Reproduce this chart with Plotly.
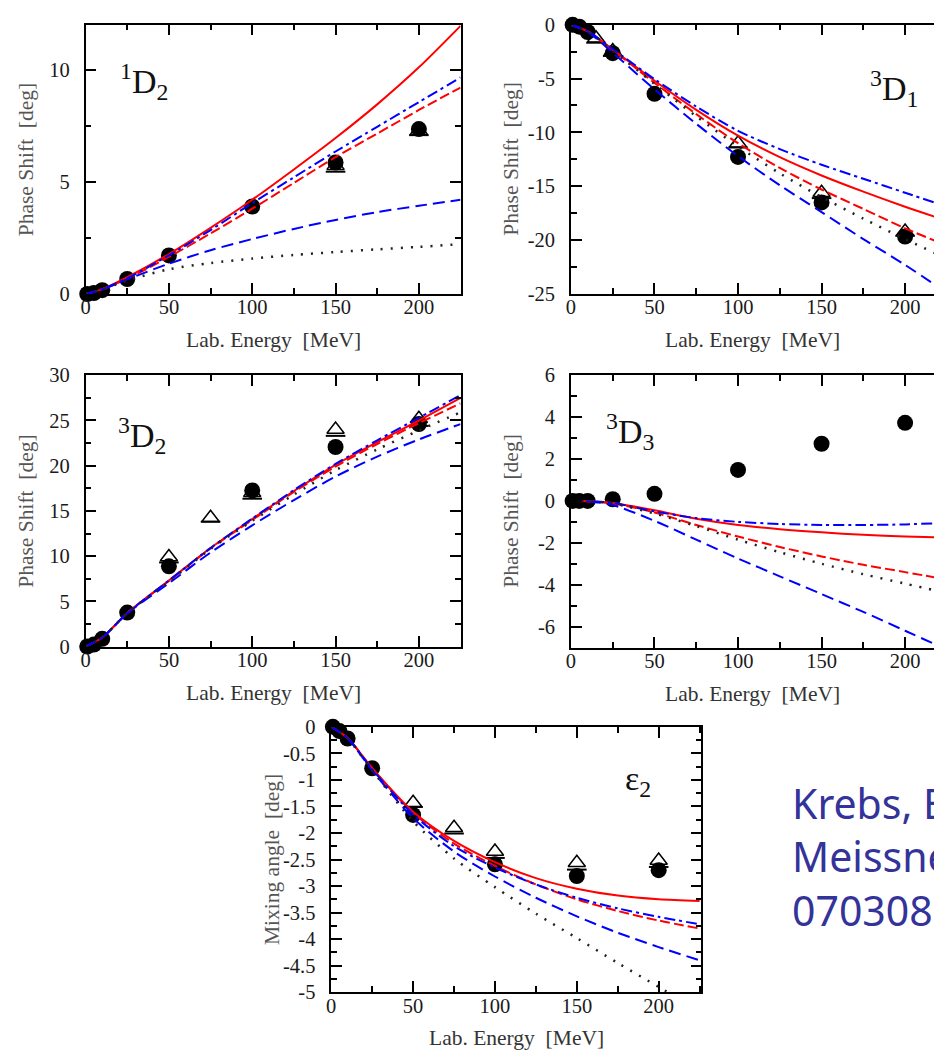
import plotly.graph_objects as go

W, H = 934, 1060

# ---------------- data ----------------
E_CURVE = [0, 10, 25, 50, 75, 100, 125, 150, 175, 200, 225]
E_PWA = [1, 5, 10, 25, 50, 100, 150, 200]

# 1D2 phase shifts
D12_RED_SOLID = [0, 0.22, 0.75, 1.78, 2.95, 4.2, 5.55, 6.95, 8.45, 10.1, 11.95]
D12_RED_DASH = [0, 0.21, 0.68, 1.65, 2.7, 3.8, 4.95, 6.1, 7.15, 8.2, 9.2]
D12_BLUE_DASHDOT = [0, 0.21, 0.7, 1.72, 2.85, 4.05, 5.2, 6.35, 7.45, 8.55, 9.65]
D12_BLUE_DASH = [0, 0.2, 0.65, 1.35, 1.95, 2.45, 2.9, 3.3, 3.65, 3.93, 4.2]
D12_BLACK_DOT = [0, 0.2, 0.6, 1.1, 1.38, 1.58, 1.74, 1.87, 1.99, 2.1, 2.22]
D12_PWA = [0.0, 0.04, 0.17, 0.67, 1.72, 3.9, 5.86, 7.35]
D12_TRI_E = [150, 200]
D12_TRI = [5.72, 7.28]
D12_BAR = [5.45, 7.08]

# 3D1 phase shifts
D31_RED_SOLID = [0, -0.62, -2.3, -5.2, -7.9, -10.3, -12.3, -14.0, -15.5, -16.9, -18.2]
D31_RED_DASH = [0, -0.62, -2.35, -5.4, -8.3, -11.0, -13.3, -15.3, -17.1, -18.9, -20.5]
D31_BLUE_DASHDOT = [0, -0.6, -2.25, -5.05, -7.6, -9.85, -11.55, -13.0, -14.3, -15.6, -16.9]
D31_BLUE_DASH = [0, -0.66, -2.6, -6.0, -9.2, -12.2, -14.9, -17.4, -19.9, -22.3, -24.9]
D31_BLACK_DOT = [0, -0.63, -2.4, -5.5, -8.5, -11.3, -13.8, -16.0, -18.0, -19.9, -21.7]
D31_PWA = [-0.01, -0.18, -0.68, -2.64, -6.42, -12.27, -16.5, -19.67]
D31_TRI_E = [15, 25, 100, 150, 200]
D31_TRI = [-1.25, -2.45, -11.0, -15.6, -19.2]
D31_BAR = [-1.67, -2.9, -11.4, -16.1, -19.6]

# 3D2 phase shifts
D32_RED_SOLID = [0, 1.0, 3.7, 7.3, 10.9, 14.1, 17.2, 20.1, 22.6, 25.0, 27.5]
D32_RED_DASH = [0, 1.0, 3.7, 7.25, 10.85, 14.0, 17.1, 19.9, 22.4, 24.7, 26.9]
D32_BLUE_DASHDOT = [0, 1.0, 3.7, 7.3, 10.9, 14.15, 17.3, 20.2, 22.8, 25.3, 27.8]
D32_BLUE_DASH = [0, 1.0, 3.65, 7.0, 10.4, 13.4, 16.2, 18.8, 21.0, 22.9, 24.6]
D32_BLACK_DOT = [0, 1.0, 3.7, 7.2, 10.8, 13.9, 16.8, 19.5, 21.8, 23.9, 25.9]
D32_PWA = [0.0, 0.22, 0.85, 3.75, 8.87, 17.27, 22.07, 24.6]
D32_TRI_E = [50, 75, 100, 150, 200]
D32_TRI = [9.9, 14.25, 17.0, 24.0, 25.2]
D32_BAR = [9.3, 13.8, 16.35, 23.3, 24.4]

# 3D3 phase shifts
D33_RED_SOLID = [0, -0.01, -0.1, -0.45, -0.85, -1.15, -1.35, -1.5, -1.62, -1.7, -1.75]
D33_RED_DASH = [0, -0.01, -0.12, -0.55, -1.15, -1.7, -2.2, -2.65, -3.05, -3.4, -3.75]
D33_BLUE_DASHDOT = [0, -0.01, -0.1, -0.5, -0.82, -1.0, -1.1, -1.15, -1.15, -1.12, -1.05]
D33_BLUE_DASH = [0, -0.02, -0.2, -0.95, -1.85, -2.75, -3.6, -4.45, -5.3, -6.2, -7.1]
D33_BLACK_DOT = [0, -0.01, -0.12, -0.6, -1.2, -1.85, -2.45, -3.0, -3.5, -3.95, -4.4]
D33_PWA = [0.0, 0.0, 0.0, 0.08, 0.34, 1.48, 2.73, 3.73]

# epsilon_2 mixing angle
E2_RED_SOLID = [0, -0.21, -0.78, -1.6, -2.15, -2.55, -2.85, -3.05, -3.18, -3.25, -3.28]
E2_RED_DASH = [0, -0.21, -0.78, -1.62, -2.2, -2.62, -2.97, -3.25, -3.47, -3.65, -3.8]
E2_BLUE_DASHDOT = [0, -0.21, -0.8, -1.65, -2.25, -2.65, -2.97, -3.22, -3.42, -3.58, -3.72]
E2_BLUE_DASH = [0, -0.22, -0.82, -1.72, -2.35, -2.82, -3.22, -3.57, -3.88, -4.15, -4.4]
E2_BLACK_DOT = [0, -0.22, -0.82, -1.78, -2.48, -3.02, -3.52, -3.98, -4.45, -4.9, -5.35]
E2_PWA = [0.0, -0.08, -0.22, -0.78, -1.66, -2.59, -2.81, -2.70]
E2_TRI_E = [50, 75, 100, 150, 200]
E2_TRI = [-1.43, -1.90, -2.35, -2.56, -2.52]
E2_BAR = [-1.51, -2.01, -2.47, -2.69, -2.64]

# tick labels
X_TICKVALS = [0, 50, 100, 150, 200]
X_TICKTEXT = ["0", "50", "100", "150", "200"]
Y1_TICKVALS = [0, 5, 10]
Y1_TICKTEXT = ["0", "5", "10"]
Y2_TICKVALS = [0, -5, -10, -15, -20, -25]
Y2_TICKTEXT = ["0", "-5", "-10", "-15", "-20", "-25"]
Y3_TICKVALS = [0, 5, 10, 15, 20, 25, 30]
Y3_TICKTEXT = ["0", "5", "10", "15", "20", "25", "30"]
Y4_TICKVALS = [6, 4, 2, 0, -2, -4, -6]
Y4_TICKTEXT = ["6", "4", "2", "0", "-2", "-4", "-6"]
Y5_TICKVALS = [0, -0.5, -1, -1.5, -2, -2.5, -3, -3.5, -4, -4.5, -5]
Y5_TICKTEXT = ["0", "-0.5", "-1", "-1.5", "-2", "-2.5", "-3", "-3.5", "-4", "-4.5", "-5"]

# ---------------- layout helpers ----------------
def fx(p):
    return p / W


def fy(p):
    return 1 - p / H


SERIF = "Liberation Serif, Times New Roman, serif"
TICK_SIZE = 20.5
TITLE_SIZE = 21.5
CURVE_STYLES = [
    ("red_solid", "#ff0000", "solid", 2),
    ("red_dash", "#ff0000", "10px,4px", 2),
    ("blue_dashdot", "#0000ff", "11px,4px,3px,4px", 2),
    ("blue_dash", "#0000ff", "12px,6px", 2),
    ("black_dot", "#222222", "2px,8px", 2.5),
]

panels = [
    dict(box=(81, 458, 14, 289), xr=[0, 225], yr=[0, 12], yt=(Y1_TICKVALS, Y1_TICKTEXT), ymin=2.5,
         curves=[D12_RED_SOLID, D12_RED_DASH, D12_BLUE_DASHDOT, D12_BLUE_DASH, D12_BLACK_DOT],
         pwa=D12_PWA, tri=(D12_TRI_E, D12_TRI, D12_BAR), cut=False,
         label="<sup>1</sup>D<sub>2</sub>", lab_xy=(114, 72), ytitle="Phase Shift  [deg]"),
    dict(box=(569, 934, 14, 289), xr=[0, 217.3], yr=[-25, 0], yt=(Y2_TICKVALS, Y2_TICKTEXT), ymin=2.5,
         curves=[D31_RED_SOLID, D31_RED_DASH, D31_BLUE_DASHDOT, D31_BLUE_DASH, D31_BLACK_DOT],
         pwa=D31_PWA, tri=(D31_TRI_E, D31_TRI, D31_BAR), cut=True,
         label="<sup>3</sup>D<sub>1</sub>", lab_xy=(868, 79), ytitle="Phase Shift  [deg]"),
    dict(box=(81, 458, 372, 649), xr=[0, 225], yr=[0, 30], yt=(Y3_TICKVALS, Y3_TICKTEXT), ymin=2.5,
         curves=[D32_RED_SOLID, D32_RED_DASH, D32_BLUE_DASHDOT, D32_BLUE_DASH, D32_BLACK_DOT],
         pwa=D32_PWA, tri=(D32_TRI_E, D32_TRI, D32_BAR), cut=False,
         label="<sup>3</sup>D<sub>2</sub>", lab_xy=(112, 434), ytitle="Phase Shift  [deg]"),
    dict(box=(569, 934, 372, 650), xr=[0, 217.3], yr=[-7, 6], yt=(Y4_TICKVALS, Y4_TICKTEXT), ymin=1,
         curves=[D33_RED_SOLID, D33_RED_DASH, D33_BLUE_DASHDOT, D33_BLUE_DASH, D33_BLACK_DOT],
         pwa=D33_PWA, tri=None, cut=True,
         label="<sup>3</sup>D<sub>3</sub>", lab_xy=(602, 429), ytitle="Phase Shift  [deg]"),
    dict(box=(328, 700, 731, 1002), xr=[0, 226], yr=[-5, 0], yt=(Y5_TICKVALS, Y5_TICKTEXT), ymin=0.25,
         curves=[E2_RED_SOLID, E2_RED_DASH, E2_BLUE_DASHDOT, E2_BLUE_DASH, E2_BLACK_DOT],
         pwa=E2_PWA, tri=(E2_TRI_E, E2_TRI, E2_BAR), cut=False,
         label="\u03b5<sub>2</sub>", lab_xy=(621, 786), ytitle="Mixing angle  [deg]"),
]

fig = go.Figure()
annotations = []
layout_axes = {}

for i, p in enumerate(panels, start=1):
    xa = "x" if i == 1 else f"x{i}"
    ya = "y" if i == 1 else f"y{i}"
    x0, x1, y0, y1 = p["box"]

    tick_common = dict(
        showline=True, linecolor="black", linewidth=1.5,
        ticks="inside", ticklen=11, tickwidth=1.5, tickcolor="black",
        showgrid=False, zeroline=False, fixedrange=True,
        tickfont=dict(family=SERIF, size=TICK_SIZE, color="#1a1a1a"),
    )
    layout_axes["xaxis" if i == 1 else f"xaxis{i}"] = dict(
        domain=[fx(x0), fx(x1)], range=p["xr"], anchor=ya,
        tickmode="array", tickvals=X_TICKVALS, ticktext=X_TICKTEXT,
        minor=dict(ticks="inside", ticklen=6, tickwidth=1.5, tickcolor="black", dtick=25, tick0=0),
        mirror="ticks", ticklabelstandoff=-6, **tick_common,
    )
    layout_axes["yaxis" if i == 1 else f"yaxis{i}"] = dict(
        domain=[fy(y1), fy(y0)], range=p["yr"], anchor=xa,
        tickmode="array", tickvals=p["yt"][0], ticktext=p["yt"][1],
        minor=dict(ticks="inside", ticklen=6, tickwidth=1.5, tickcolor="black", dtick=p["ymin"], tick0=0),
        mirror=False if p["cut"] else "ticks", ticklabelstandoff=10, **tick_common,
    )

    # triangles (second data set) with their bars
    if p["tri"] is not None:
        te, tv, tb = p["tri"]
        fig.add_trace(go.Scatter(x=te, y=tb, mode="markers", xaxis=xa, yaxis=ya, cliponaxis=False,
                                 marker=dict(symbol="line-ew", size=14, line=dict(width=2, color="black")),
                                 showlegend=False, hoverinfo="skip"))
        fig.add_trace(go.Scatter(x=te, y=tv, mode="markers", xaxis=xa, yaxis=ya, cliponaxis=False,
                                 marker=dict(symbol="triangle-up-open", size=15, color="black",
                                             line=dict(width=1.5, color="black")),
                                 showlegend=False, hoverinfo="skip"))
    # filled circles (PWA)
    fig.add_trace(go.Scatter(x=E_PWA, y=p["pwa"], mode="markers", xaxis=xa, yaxis=ya, cliponaxis=False,
                             marker=dict(symbol="circle", size=16, color="black"),
                             showlegend=False, hoverinfo="skip"))
    # theory curves
    for (name, color, dash, lw), vals in zip(CURVE_STYLES, p["curves"]):
        fig.add_trace(go.Scatter(x=E_CURVE, y=vals, mode="lines", xaxis=xa, yaxis=ya,
                                 line=dict(color=color, dash=dash, width=lw, shape="spline", smoothing=0.8),
                                 showlegend=False, hoverinfo="skip", name=name))

    # panel label
    annotations.append(dict(x=fx(p["lab_xy"][0]), y=fy(p["lab_xy"][1]), xref="paper", yref="paper",
                            xanchor="left", yanchor="middle", text=p["label"], showarrow=False,
                            font=dict(family=SERIF, size=34, color="#111111")))
    # x title
    annotations.append(dict(x=fx((x0 + min(x1, x0 + 377)) / 2), y=fy(y1 + 47), xref="paper", yref="paper",
                            xanchor="center", yanchor="middle", text="Lab. Energy  [MeV]", showarrow=False,
                            font=dict(family=SERIF, size=TITLE_SIZE, color="#333333")))
    # y title
    annotations.append(dict(x=fx(x0 - 60), y=fy((y0 + y1) / 2), xref="paper", yref="paper",
                            xanchor="center", yanchor="middle", text=p["ytitle"], textangle=-90,
                            showarrow=False, font=dict(family=SERIF, size=TITLE_SIZE, color="#555555")))

# citation text (cut at right edge in the original)
annotations.append(dict(x=fx(789), y=fy(778), xref="paper", yref="paper", xanchor="left", yanchor="top",
                        align="left", showarrow=False,
                        text="Krebs, Epelbaum,<br>Meissner, nucl-th/<br>0703087",
                        font=dict(family="Comic Sans MS, Noto Sans, sans-serif", size=41, color="#333399")))

fig.update_layout(
    width=W, height=H, margin=dict(l=0, r=0, t=0, b=0),
    paper_bgcolor="white", plot_bgcolor="white",
    annotations=annotations, showlegend=False, **layout_axes,
)

fig.write_html("out.html")
